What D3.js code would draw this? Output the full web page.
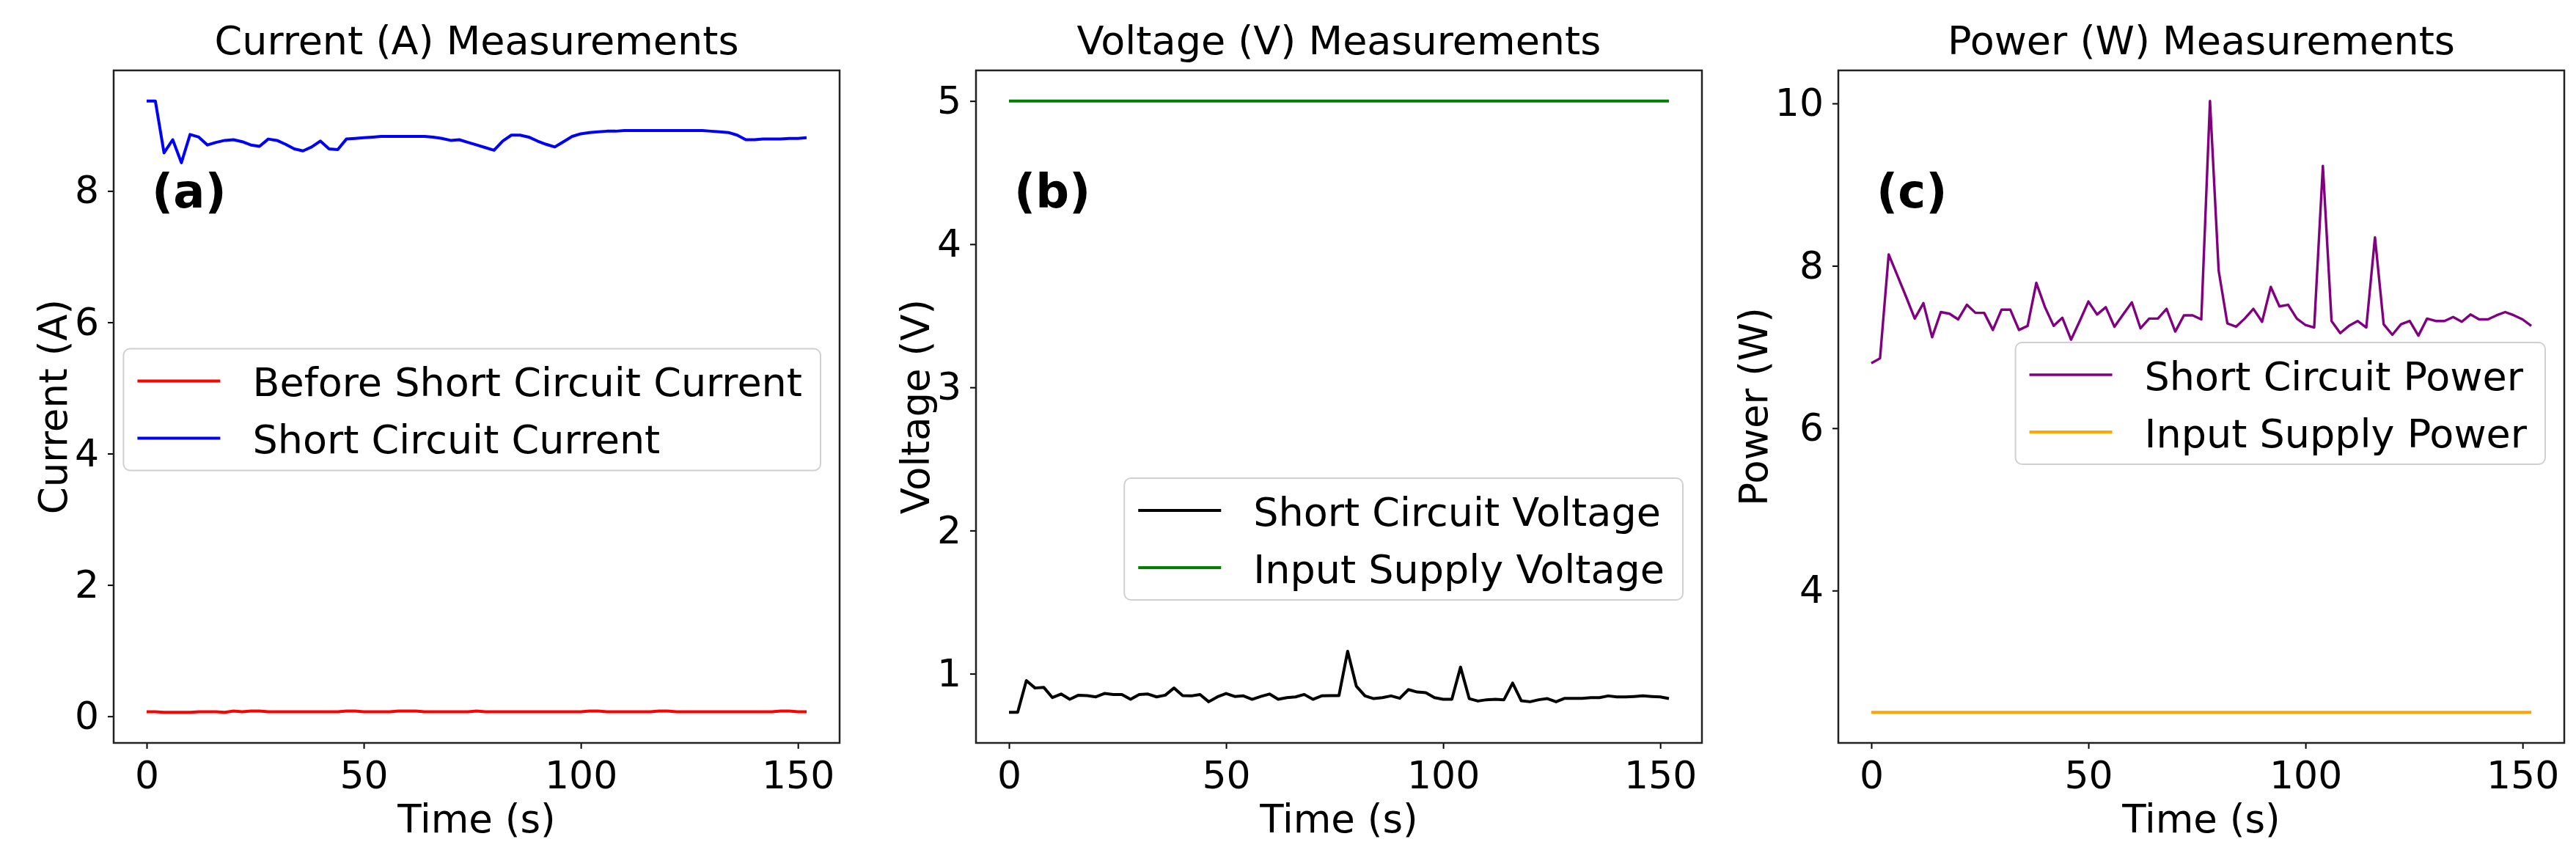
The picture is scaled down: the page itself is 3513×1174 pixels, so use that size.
<!DOCTYPE html>
<html><head><meta charset="utf-8">
<script src="https://cdn.jsdelivr.net/npm/d3@7"></script>
<style>
body{margin:0;background:#fff}
svg{display:block}
text{font-family:"DejaVu Sans",sans-serif;fill:#000}
</style>
</head><body><svg id="chart" width="3513" height="1174"></svg>
<script>
// ---------------- data ----------------
const timeS = [
  0,2,4,6,8,10,12,14,16,18,20,
  22,24,26,28,30,32,34,36,38,40,42,
  44,46,48,50,52,54,56,58,60,62,64,
  66,68,70,72,74,76,78,80,82,84,86,
  88,90,92,94,96,98,100,102,104,106,108,
  110,112,114,116,118,120,122,124,126,128,130,
  132,134,136,138,140,142,144,146,148,150,152];

const currentBefore = [
  0.07,0.07,0.06,0.06,0.06,0.06,0.07,0.07,0.07,0.06,0.08,
  0.07,0.08,0.08,0.07,0.07,0.07,0.07,0.07,0.07,0.07,0.07,
  0.07,0.08,0.08,0.07,0.07,0.07,0.07,0.08,0.08,0.08,0.07,
  0.07,0.07,0.07,0.07,0.07,0.08,0.07,0.07,0.07,0.07,0.07,
  0.07,0.07,0.07,0.07,0.07,0.07,0.07,0.08,0.08,0.07,0.07,
  0.07,0.07,0.07,0.07,0.08,0.08,0.07,0.07,0.07,0.07,0.07,
  0.07,0.07,0.07,0.07,0.07,0.07,0.07,0.08,0.08,0.07,0.07];

const currentShort = [
  9.37,9.37,8.58,8.78,8.43,8.86,8.82,8.70,8.74,8.77,8.78,
  8.75,8.70,8.68,8.79,8.77,8.71,8.64,8.61,8.67,8.76,8.64,
  8.63,8.79,8.80,8.81,8.82,8.83,8.83,8.83,8.83,8.83,8.83,
  8.82,8.80,8.77,8.78,8.74,8.70,8.66,8.62,8.76,8.85,8.85,
  8.82,8.76,8.71,8.67,8.75,8.83,8.87,8.89,8.90,8.91,8.91,
  8.92,8.92,8.92,8.92,8.92,8.92,8.92,8.92,8.92,8.92,8.91,
  8.90,8.89,8.85,8.78,8.78,8.79,8.79,8.79,8.80,8.80,8.81];

const voltageShort = [
  0.73,0.73,0.952,0.90,0.905,0.833,0.858,0.821,0.85,0.847,0.838,
  0.862,0.855,0.855,0.821,0.855,0.858,0.838,0.85,0.90,0.847,0.845,
  0.855,0.804,0.838,0.862,0.841,0.845,0.821,0.841,0.858,0.821,0.833,
  0.838,0.855,0.821,0.845,0.847,0.847,1.157,0.913,0.845,0.826,0.833,
  0.845,0.828,0.889,0.872,0.867,0.833,0.821,0.821,1.046,0.826,0.809,
  0.818,0.821,0.818,0.935,0.811,0.804,0.818,0.826,0.804,0.828,0.828,
  0.828,0.833,0.833,0.845,0.838,0.838,0.841,0.845,0.841,0.838,0.826];

const voltageInput = [
  5,5,5,5,5,5,5,5,5,5,5,
  5,5,5,5,5,5,5,5,5,5,5,
  5,5,5,5,5,5,5,5,5,5,5,
  5,5,5,5,5,5,5,5,5,5,5,
  5,5,5,5,5,5,5,5,5,5,5,
  5,5,5,5,5,5,5,5,5,5,5,
  5,5,5,5,5,5,5,5,5,5,5];

const powerShort = [
  6.80,6.86,8.14,7.88,7.62,7.35,7.54,7.12,7.43,7.41,7.34,
  7.52,7.42,7.42,7.21,7.46,7.46,7.21,7.26,7.79,7.49,7.26,
  7.36,7.09,7.32,7.56,7.40,7.49,7.25,7.40,7.55,7.23,7.35,
  7.35,7.47,7.19,7.39,7.39,7.34,10.03,7.94,7.29,7.25,7.35,
  7.47,7.31,7.74,7.50,7.52,7.35,7.27,7.24,9.23,7.32,7.17,
  7.26,7.32,7.24,8.35,7.28,7.15,7.28,7.32,7.14,7.35,7.32,
  7.32,7.37,7.31,7.40,7.34,7.34,7.39,7.43,7.39,7.34,7.26];

const powerInput = [
  2.5,2.5,2.5,2.5,2.5,2.5,2.5,2.5,2.5,2.5,2.5,
  2.5,2.5,2.5,2.5,2.5,2.5,2.5,2.5,2.5,2.5,2.5,
  2.5,2.5,2.5,2.5,2.5,2.5,2.5,2.5,2.5,2.5,2.5,
  2.5,2.5,2.5,2.5,2.5,2.5,2.5,2.5,2.5,2.5,2.5,
  2.5,2.5,2.5,2.5,2.5,2.5,2.5,2.5,2.5,2.5,2.5,
  2.5,2.5,2.5,2.5,2.5,2.5,2.5,2.5,2.5,2.5,2.5,
  2.5,2.5,2.5,2.5,2.5,2.5,2.5,2.5,2.5,2.5,2.5];

const xTicks = [0, 50, 100, 150];
const yTicksCurrent = [0, 2, 4, 6, 8];
const yTicksVoltage = [1, 2, 3, 4, 5];
const yTicksPower = [4, 6, 8, 10];

const titles = ["Current (A) Measurements", "Voltage (V) Measurements", "Power (W) Measurements"];
const yLabels = ["Current (A)", "Voltage (V)", "Power (W)"];
const panelTags = ["(a)", "(b)", "(c)"];
const xLabel = "Time (s)";

const seriesNames = [
  ["Before Short Circuit Current", "Short Circuit Current"],
  ["Short Circuit Voltage", "Input Supply Voltage"],
  ["Short Circuit Power", "Input Supply Power"]];
const seriesValues = [
  [currentBefore, currentShort],
  [voltageShort, voltageInput],
  [powerShort, powerInput]];
const seriesColors = [["red", "blue"], ["black", "green"], ["purple", "orange"]];
const seriesWidths = [[4, 4], [4, 4], [3.4, 4]];
const yTickSets = [yTicksCurrent, yTicksVoltage, yTicksPower];

// ---------------- layout ----------------
const axLeft = [155, 1331, 2507];
const axW = 990;
const axTop = 96, axBottom = 1013;
const legendTops = [null, 652, 467];   // null -> vertically centred
const FS_TITLE = 54, FS_TICK = 52, FS_LABEL = 53, FS_LEG = 54, FS_TAG = 64;

const svg = d3.select("#chart");
svg.append("rect").attr("width", 3513).attr("height", 1174).attr("fill", "#fff");

function padded(ext) {
  const r = ext[1] - ext[0];
  return [ext[0] - 0.05 * r, ext[1] + 0.05 * r];
}

for (let p = 0; p < 3; p++) {
  const L = axLeft[p], R = L + axW;
  const g = svg.append("g");

  const x = d3.scaleLinear().domain(padded(d3.extent(timeS))).range([L, R]);
  const allY = seriesValues[p].flat();
  const y = d3.scaleLinear().domain(padded(d3.extent(allY))).range([axBottom, axTop]);

  // lines
  const line = d3.line().x((d, i) => x(timeS[i])).y(d => y(d));
  seriesValues[p].forEach((vals, k) => {
    g.append("path").datum(vals)
      .attr("d", line)
      .attr("fill", "none")
      .attr("stroke", seriesColors[p][k])
      .attr("stroke-width", seriesWidths[p][k])
      .attr("stroke-linejoin", "round");
  });

  // axes
  const xa = g.append("g").attr("transform", `translate(0,${axBottom})`)
    .call(d3.axisBottom(x).tickValues(xTicks).tickSize(8).tickPadding(17).tickFormat(d3.format("d")));
  const ya = g.append("g").attr("transform", `translate(${L},0)`)
    .call(d3.axisLeft(y).tickValues(yTickSets[p]).tickSize(8).tickPadding(12).tickFormat(d3.format("d")));
  [xa, ya].forEach(a => {
    a.select(".domain").remove();
    a.selectAll(".tick line").attr("stroke", "#000").attr("stroke-width", 2);
    a.selectAll(".tick text").attr("font-size", FS_TICK).attr("fill", "#000")
      .attr("font-family", '"DejaVu Sans",sans-serif');
  });

  // frame
  g.append("rect").attr("x", L).attr("y", axTop).attr("width", axW).attr("height", axBottom - axTop)
    .attr("fill", "none").attr("stroke", "#222").attr("stroke-width", 2.5);

  // title
  g.append("text").attr("x", (L + R) / 2).attr("y", 74).attr("text-anchor", "middle")
    .attr("font-size", FS_TITLE).text(titles[p]);

  // x label
  g.append("text").attr("x", (L + R) / 2).attr("y", 1135).attr("text-anchor", "middle")
    .attr("font-size", FS_LABEL).text(xLabel);

  // y label, placed left of the tick labels
  let minX = Infinity;
  ya.selectAll(".tick text").each(function () {
    const b = this.getBBox();
    minX = Math.min(minX, L + b.x);
  });
  const yl = minX - 11;
  g.append("text").attr("transform", `translate(${yl},${(axTop + axBottom) / 2}) rotate(-90)`)
    .attr("text-anchor", "middle").attr("font-size", FS_LABEL).text(yLabels[p]);

  // panel tag
  g.append("text").attr("x", L + 52).attr("y", 283).attr("font-size", FS_TAG)
    .attr("font-weight", "bold").text(panelTags[p]);

  // legend
  const legH = 166;
  const legTop = legendTops[p] === null ? (axTop + axBottom) / 2 - legH / 2 + 4 : legendTops[p];
  const lg = g.append("g");
  const box = lg.append("rect");
  const texts = seriesNames[p].map((n, k) =>
    lg.append("text").attr("font-size", FS_LEG).attr("dominant-baseline", "central").text(n));
  let tw = 0;
  texts.forEach(t => { tw = Math.max(tw, t.node().getComputedTextLength()); });
  const legW = 176 + tw + 25;
  const legRight = R - 26;
  const legLeft = legRight - legW;
  box.attr("x", legLeft).attr("y", legTop).attr("width", legW).attr("height", legH)
    .attr("rx", 9).attr("fill", "#fff").attr("fill-opacity", 0.8)
    .attr("stroke", "#d0d0d0").attr("stroke-width", 2);
  const rowY = [legTop + 44, legTop + 122];
  seriesNames[p].forEach((n, k) => {
    lg.append("line").attr("x1", legLeft + 19).attr("x2", legLeft + 132)
      .attr("y1", rowY[k]).attr("y2", rowY[k])
      .attr("stroke", seriesColors[p][k]).attr("stroke-width", seriesWidths[p][k]);
    texts[k].attr("x", legLeft + 176).attr("y", rowY[k] + 2);
  });
}
</script>
</body></html>
